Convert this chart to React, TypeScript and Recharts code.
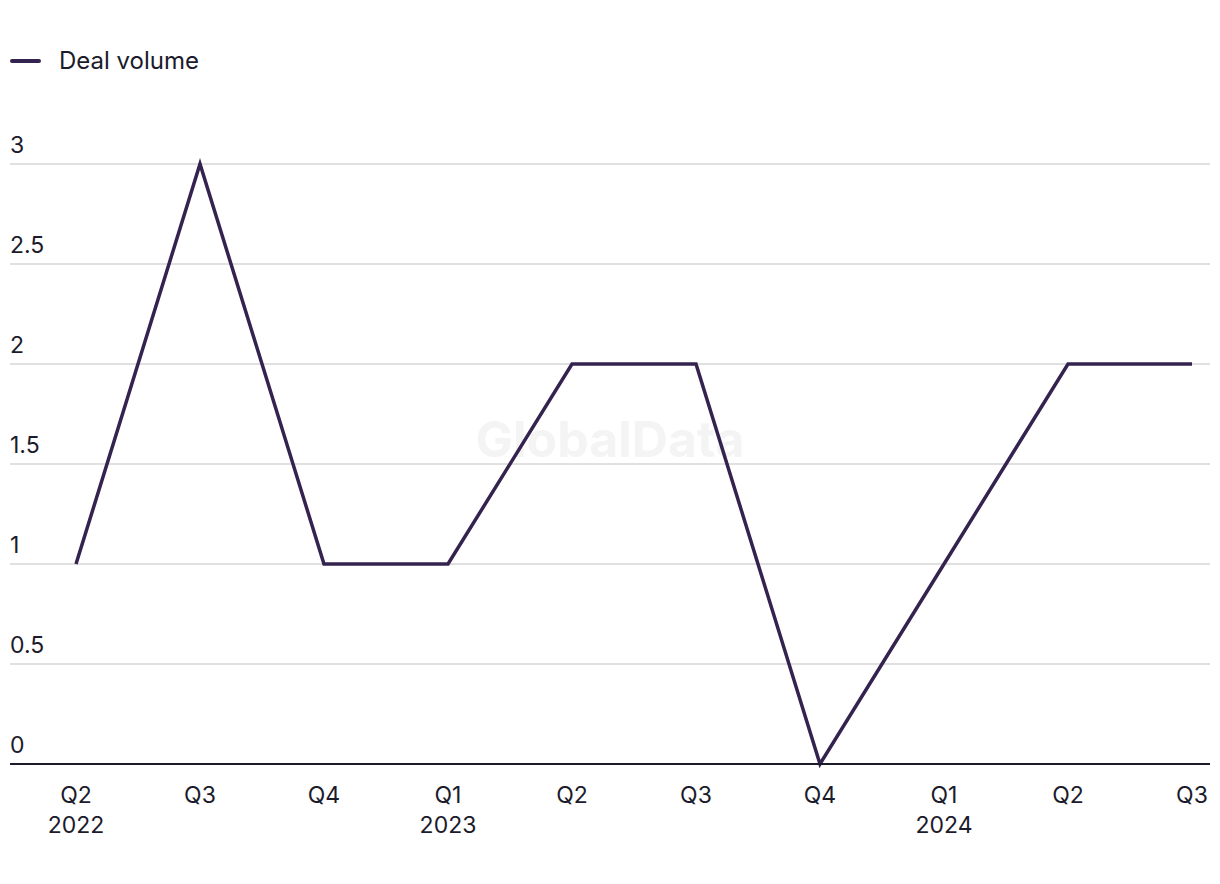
import React from "react";
import { LineChart, Line, XAxis, YAxis, CartesianGrid, Legend } from "recharts";

const quarters = ["Q2", "Q3", "Q4", "Q1", "Q2", "Q3", "Q4", "Q1", "Q2", "Q3"];
const years = ["2022", "", "", "2023", "", "", "", "2024", "", ""];
const dealVolume = [1, 3, 1, 1, 2, 2, 0, 1, 2, 2];
const yTicks = [0, 0.5, 1, 1.5, 2, 2.5, 3];

const data = quarters.map((q, i) => ({
  key: `${q}|${years[i]}|${i}`,
  quarter: q,
  year: years[i],
  value: dealVolume[i],
}));

const FONT = "Inter, 'Noto Sans', sans-serif";
const TEXT = "#1b1b2b";
const LINE = "#35234f";

const XTick = (props: any) => {
  const { x, y, payload } = props;
  const [q, yr] = String(payload.value).split("|");
  return (
    <g>
      <text x={x} y={y + 31} textAnchor="middle" fontSize={23} fill={TEXT} fontFamily={FONT}>
        {q}
      </text>
      {yr ? (
        <text x={x} y={y + 61} textAnchor="middle" fontSize={23} fill={TEXT} fontFamily={FONT}>
          {yr}
        </text>
      ) : null}
    </g>
  );
};

const YTick = (props: any) => {
  const { y, payload } = props;
  return (
    <text x={10} y={y - 11} textAnchor="start" fontSize={23} fill={TEXT} fontFamily={FONT}>
      {payload.value}
    </text>
  );
};

const LegendContent = () => (
  <div style={{ display: "flex", alignItems: "center", fontFamily: FONT, fontSize: 24, color: TEXT }}>
    <div style={{ width: 31, height: 4, background: LINE, borderRadius: 2, marginRight: 18 }} />
    <span>Deal volume</span>
  </div>
);

export default function App() {
  return (
    <div style={{ position: "absolute", left: 0, top: 0, width: 1220, height: 884, background: "#fff" }}>
      <LineChart
        width={1220}
        height={884}
        data={data}
        margin={{ top: 164, right: 10, bottom: 0, left: 0 }}
      >
        <text
          x={610}
          y={457}
          textAnchor="middle"
          fontSize={50}
          fontWeight={700}
          fill="#f4f4f4"
          fontFamily={FONT}
        >
          GlobalData
        </text>
        <CartesianGrid vertical={false} stroke="#d6d6d6" strokeWidth={1.5} />
        <XAxis
          dataKey="key"
          height={120}
          padding={{ left: 66, right: 18 }}
          axisLine={{ stroke: TEXT, strokeWidth: 2 }}
          tickLine={false}
          tick={<XTick />}
          interval={0}
        />
        <YAxis
          width={10}
          domain={[0, 3]}
          ticks={yTicks}
          interval={0}
          axisLine={false}
          tickLine={false}
          tick={<YTick />}
        />
        <Legend
          verticalAlign="top"
          align="left"
          content={<LegendContent />}
          wrapperStyle={{ top: 46, left: 10, height: 0, width: 400 }}
        />
        <Line
          type="linear"
          dataKey="value"
          stroke={LINE}
          strokeWidth={3.5}
          dot={false}
          activeDot={false}
          isAnimationActive={false}
          strokeLinejoin="miter"
        />
      </LineChart>
    </div>
  );
}
